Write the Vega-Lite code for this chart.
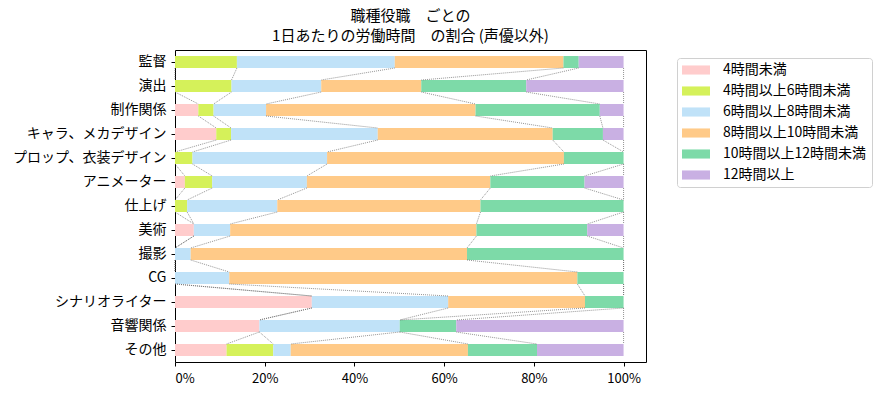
{
  "$schema": "https://vega.github.io/schema/vega-lite/v6.json",
  "autosize": {"type": "none"},
  "padding": {"left": 175, "top": 50, "right": 241, "bottom": 35},
  "width": 471,
  "height": 312,
  "background": "white",
  "config": {
    "font": "Noto Sans CJK JP",
    "view": {"stroke": "black", "strokeWidth": 1},
    "axis": {"grid": false, "domain": false, "tickColor": "black", "tickSize": 4, "labelColor": "black", "labelFontSize": 13, "labelFont": "Noto Sans CJK JP", "labelPadding": 3, "title": null}
  },
  "title": {
    "text": ["職種役職　ごとの", "1日あたりの労働時間　の割合 (声優以外)"],
    "fontSize": 15,
    "fontWeight": "normal",
    "color": "black",
    "anchor": "middle",
    "frame": "group",
    "lineHeight": 20,
    "offset": 6
  },
  "data": {
    "values": [
      {"job": "監督", "jo": 0, "seg": "4時間未満", "so": 0, "value": 0},
      {"job": "監督", "jo": 0, "seg": "4時間以上6時間未満", "so": 1, "value": 13.8},
      {"job": "監督", "jo": 0, "seg": "6時間以上8時間未満", "so": 2, "value": 35.2},
      {"job": "監督", "jo": 0, "seg": "8時間以上10時間未満", "so": 3, "value": 37.6},
      {"job": "監督", "jo": 0, "seg": "10時間以上12時間未満", "so": 4, "value": 3.4},
      {"job": "監督", "jo": 0, "seg": "12時間以上", "so": 5, "value": 10.0},
      {"job": "演出", "jo": 1, "seg": "4時間未満", "so": 0, "value": 0},
      {"job": "演出", "jo": 1, "seg": "4時間以上6時間未満", "so": 1, "value": 12.6},
      {"job": "演出", "jo": 1, "seg": "6時間以上8時間未満", "so": 2, "value": 20.0},
      {"job": "演出", "jo": 1, "seg": "8時間以上10時間未満", "so": 3, "value": 22.3},
      {"job": "演出", "jo": 1, "seg": "10時間以上12時間未満", "so": 4, "value": 23.4},
      {"job": "演出", "jo": 1, "seg": "12時間以上", "so": 5, "value": 21.7},
      {"job": "制作関係", "jo": 2, "seg": "4時間未満", "so": 0, "value": 5.2},
      {"job": "制作関係", "jo": 2, "seg": "4時間以上6時間未満", "so": 1, "value": 3.4},
      {"job": "制作関係", "jo": 2, "seg": "6時間以上8時間未満", "so": 2, "value": 11.7},
      {"job": "制作関係", "jo": 2, "seg": "8時間以上10時間未満", "so": 3, "value": 46.7},
      {"job": "制作関係", "jo": 2, "seg": "10時間以上12時間未満", "so": 4, "value": 27.7},
      {"job": "制作関係", "jo": 2, "seg": "12時間以上", "so": 5, "value": 5.3},
      {"job": "キャラ、メカデザイン", "jo": 3, "seg": "4時間未満", "so": 0, "value": 9.2},
      {"job": "キャラ、メカデザイン", "jo": 3, "seg": "4時間以上6時間未満", "so": 1, "value": 3.3},
      {"job": "キャラ、メカデザイン", "jo": 3, "seg": "6時間以上8時間未満", "so": 2, "value": 32.7},
      {"job": "キャラ、メカデザイン", "jo": 3, "seg": "8時間以上10時間未満", "so": 3, "value": 39.0},
      {"job": "キャラ、メカデザイン", "jo": 3, "seg": "10時間以上12時間未満", "so": 4, "value": 11.2},
      {"job": "キャラ、メカデザイン", "jo": 3, "seg": "12時間以上", "so": 5, "value": 4.6},
      {"job": "プロップ、衣装デザイン", "jo": 4, "seg": "4時間未満", "so": 0, "value": 0},
      {"job": "プロップ、衣装デザイン", "jo": 4, "seg": "4時間以上6時間未満", "so": 1, "value": 3.9},
      {"job": "プロップ、衣装デザイン", "jo": 4, "seg": "6時間以上8時間未満", "so": 2, "value": 30.0},
      {"job": "プロップ、衣装デザイン", "jo": 4, "seg": "8時間以上10時間未満", "so": 3, "value": 52.8},
      {"job": "プロップ、衣装デザイン", "jo": 4, "seg": "10時間以上12時間未満", "so": 4, "value": 13.3},
      {"job": "プロップ、衣装デザイン", "jo": 4, "seg": "12時間以上", "so": 5, "value": 0},
      {"job": "アニメーター", "jo": 5, "seg": "4時間未満", "so": 0, "value": 2.2},
      {"job": "アニメーター", "jo": 5, "seg": "4時間以上6時間未満", "so": 1, "value": 6.1},
      {"job": "アニメーター", "jo": 5, "seg": "6時間以上8時間未満", "so": 2, "value": 21.1},
      {"job": "アニメーター", "jo": 5, "seg": "8時間以上10時間未満", "so": 3, "value": 40.9},
      {"job": "アニメーター", "jo": 5, "seg": "10時間以上12時間未満", "so": 4, "value": 21.0},
      {"job": "アニメーター", "jo": 5, "seg": "12時間以上", "so": 5, "value": 8.7},
      {"job": "仕上げ", "jo": 6, "seg": "4時間未満", "so": 0, "value": 0},
      {"job": "仕上げ", "jo": 6, "seg": "4時間以上6時間未満", "so": 1, "value": 2.7},
      {"job": "仕上げ", "jo": 6, "seg": "6時間以上8時間未満", "so": 2, "value": 20.1},
      {"job": "仕上げ", "jo": 6, "seg": "8時間以上10時間未満", "so": 3, "value": 45.3},
      {"job": "仕上げ", "jo": 6, "seg": "10時間以上12時間未満", "so": 4, "value": 31.9},
      {"job": "仕上げ", "jo": 6, "seg": "12時間以上", "so": 5, "value": 0},
      {"job": "美術", "jo": 7, "seg": "4時間未満", "so": 0, "value": 4.2},
      {"job": "美術", "jo": 7, "seg": "4時間以上6時間未満", "so": 1, "value": 0},
      {"job": "美術", "jo": 7, "seg": "6時間以上8時間未満", "so": 2, "value": 8.1},
      {"job": "美術", "jo": 7, "seg": "8時間以上10時間未満", "so": 3, "value": 54.9},
      {"job": "美術", "jo": 7, "seg": "10時間以上12時間未満", "so": 4, "value": 24.7},
      {"job": "美術", "jo": 7, "seg": "12時間以上", "so": 5, "value": 8.1},
      {"job": "撮影", "jo": 8, "seg": "4時間未満", "so": 0, "value": 0},
      {"job": "撮影", "jo": 8, "seg": "4時間以上6時間未満", "so": 1, "value": 0},
      {"job": "撮影", "jo": 8, "seg": "6時間以上8時間未満", "so": 2, "value": 3.5},
      {"job": "撮影", "jo": 8, "seg": "8時間以上10時間未満", "so": 3, "value": 61.6},
      {"job": "撮影", "jo": 8, "seg": "10時間以上12時間未満", "so": 4, "value": 34.9},
      {"job": "撮影", "jo": 8, "seg": "12時間以上", "so": 5, "value": 0},
      {"job": "CG", "jo": 9, "seg": "4時間未満", "so": 0, "value": 0},
      {"job": "CG", "jo": 9, "seg": "4時間以上6時間未満", "so": 1, "value": 0},
      {"job": "CG", "jo": 9, "seg": "6時間以上8時間未満", "so": 2, "value": 12.1},
      {"job": "CG", "jo": 9, "seg": "8時間以上10時間未満", "so": 3, "value": 77.6},
      {"job": "CG", "jo": 9, "seg": "10時間以上12時間未満", "so": 4, "value": 10.3},
      {"job": "CG", "jo": 9, "seg": "12時間以上", "so": 5, "value": 0},
      {"job": "シナリオライター", "jo": 10, "seg": "4時間未満", "so": 0, "value": 30.5},
      {"job": "シナリオライター", "jo": 10, "seg": "4時間以上6時間未満", "so": 1, "value": 0},
      {"job": "シナリオライター", "jo": 10, "seg": "6時間以上8時間未満", "so": 2, "value": 30.4},
      {"job": "シナリオライター", "jo": 10, "seg": "8時間以上10時間未満", "so": 3, "value": 30.5},
      {"job": "シナリオライター", "jo": 10, "seg": "10時間以上12時間未満", "so": 4, "value": 8.6},
      {"job": "シナリオライター", "jo": 10, "seg": "12時間以上", "so": 5, "value": 0},
      {"job": "音響関係", "jo": 11, "seg": "4時間未満", "so": 0, "value": 18.8},
      {"job": "音響関係", "jo": 11, "seg": "4時間以上6時間未満", "so": 1, "value": 0},
      {"job": "音響関係", "jo": 11, "seg": "6時間以上8時間未満", "so": 2, "value": 31.3},
      {"job": "音響関係", "jo": 11, "seg": "8時間以上10時間未満", "so": 3, "value": 0},
      {"job": "音響関係", "jo": 11, "seg": "10時間以上12時間未満", "so": 4, "value": 12.6},
      {"job": "音響関係", "jo": 11, "seg": "12時間以上", "so": 5, "value": 37.3},
      {"job": "その他", "jo": 12, "seg": "4時間未満", "so": 0, "value": 11.5},
      {"job": "その他", "jo": 12, "seg": "4時間以上6時間未満", "so": 1, "value": 10.4},
      {"job": "その他", "jo": 12, "seg": "6時間以上8時間未満", "so": 2, "value": 3.9},
      {"job": "その他", "jo": 12, "seg": "8時間以上10時間未満", "so": 3, "value": 39.5},
      {"job": "その他", "jo": 12, "seg": "10時間以上12時間未満", "so": 4, "value": 15.4},
      {"job": "その他", "jo": 12, "seg": "12時間以上", "so": 5, "value": 19.3}
    ]
  },
  "transform": [
    {"stack": "value", "groupby": ["job"], "sort": [{"field": "so", "order": "ascending"}], "as": ["x0", "x1"]}
  ],
  "layer": [
    {
      "mark": {"type": "bar"},
      "encoding": {
        "x": {"field": "x0", "type": "quantitative", "scale": {"domain": [0, 105], "nice": false, "zero": false},
              "axis": {"values": [0, 20, 40, 60, 80, 100], "labelExpr": "datum.value + '%'", "labelPadding": 6}},
        "x2": {"field": "x1"},
        "y": {"field": "job", "type": "nominal",
              "sort": ["監督", "演出", "制作関係", "キャラ、メカデザイン", "プロップ、衣装デザイン", "アニメーター", "仕上げ", "美術", "撮影", "CG", "シナリオライター", "音響関係", "その他"],
              "scale": {"paddingInner": 0.5, "paddingOuter": 0.25},
              "axis": {"labelFontSize": 14, "labelPadding": 5}},
        "color": {"field": "seg", "type": "nominal",
                  "scale": {"domain": ["4時間未満", "4時間以上6時間未満", "6時間以上8時間未満", "8時間以上10時間未満", "10時間以上12時間未満", "12時間以上"],
                            "range": ["#ffcccc", "#d5f15a", "#c0e2f8", "#ffca88", "#7ddaa8", "#c9b0e3"]},
                  "legend": {"title": null, "orient": "none", "legendX": 502, "legendY": 8,
                             "strokeColor": "#d0d0d0", "fillColor": "white", "cornerRadius": 3, "padding": 5,
                             "symbolType": "M-2,-0.65H2V0.65H-2Z", "symbolSize": 196, "symbolStrokeWidth": 0, "symbolOpacity": 1,
                             "symbolOffset": 7, "labelOffset": 20, "labelFontSize": 14, "labelColor": "black", "rowPadding": 7}}
      }
    },
    {
      "transform": [
        {"window": [{"op": "lead", "field": "x1", "as": "nx"}, {"op": "lead", "field": "job", "as": "njob"}],
         "groupby": ["seg"], "sort": [{"field": "jo", "order": "ascending"}]},
        {"filter": "datum.njob != null"}
      ],
      "mark": {"type": "rule", "color": "#666666", "strokeWidth": 0.7, "strokeDash": [1, 1], "yOffset": 6, "y2Offset": -6},
      "encoding": {
        "x": {"field": "x1", "type": "quantitative"},
        "x2": {"field": "nx"},
        "y": {"field": "job", "type": "nominal", "sort": ["監督", "演出", "制作関係", "キャラ、メカデザイン", "プロップ、衣装デザイン", "アニメーター", "仕上げ", "美術", "撮影", "CG", "シナリオライター", "音響関係", "その他"]},
        "y2": {"field": "njob"}
      }
    }
  ]
}
